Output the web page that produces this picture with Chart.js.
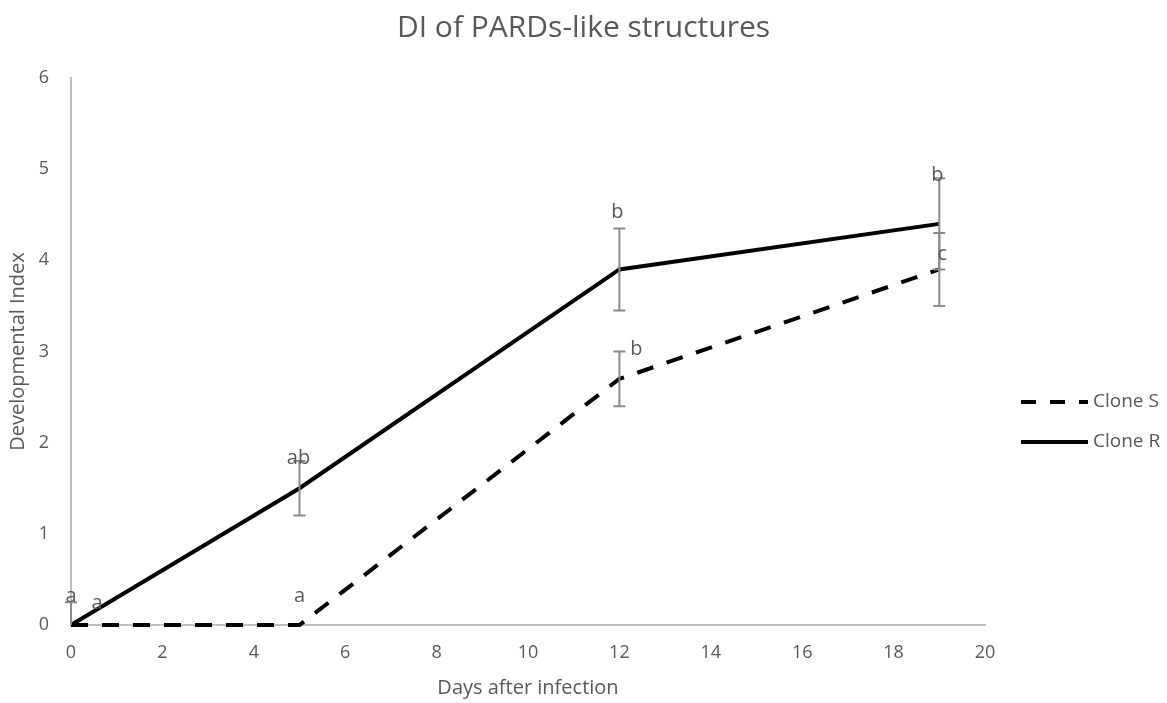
<!DOCTYPE html>
<html lang="en">

<head>
    <meta charset="UTF-8">
    <script src="https://cdn.jsdelivr.net/npm/chart.js"></script>
    <title>DI of PARDs-like structures</title>
    <style>
        body { margin: 0; background: #fff; }
        .box { width: 1167px; height: 703px; }
    </style>
</head>

<body>
    <div class="box">
        <canvas id="myChart"></canvas>
    </div>
</body>

</html>
<script>
    // dados
    const dias = [0, 5, 12, 19];
    const cloneS = [0, 0, 2.7, 3.9];
    const cloneR = [0, 1.5, 3.9, 4.4];
    const erroS = [0, 0, 0.3, 0.4];
    const erroR = [0.25, 0.3, 0.45, 0.5];
    const letrasS = ['a', 'a', 'b', 'c'];
    const letrasR = ['a', 'ab', 'b', 'b'];
    const xTicks = [0, 2, 4, 6, 8, 10, 12, 14, 16, 18, 20];
    const yTicks = [0, 1, 2, 3, 4, 5, 6];

    // deslocamento das letras (px) em relacao ao ponto
    const posS = [[26, -22], [0, -29], [17, -30], [3, -15]];
    const posR = [[0, -29], [-1, -30], [-2, -57], [-2, -49]];

    const fonte = "'Open Sans', 'Noto Sans', sans-serif";
    const cinza = '#595959';

    const pontos = (ys) => dias.map((d, i) => ({ x: d, y: ys[i] }));

    // barras de erro, letras, titulo e legenda
    const extras = {
        id: 'extras',
        afterDatasetsDraw(chart) {
            const c = chart.ctx;
            const x = chart.scales.x;
            const y = chart.scales.y;
            c.save();
            c.strokeStyle = '#8c8c8c';
            c.lineWidth = 2;
            [[cloneS, erroS], [cloneR, erroR]].forEach(([vals, errs]) => {
                vals.forEach((v, i) => {
                    if (!errs[i]) return;
                    const px = x.getPixelForValue(dias[i]);
                    const top = y.getPixelForValue(v + errs[i]);
                    const bot = y.getPixelForValue(Math.max(0, v - errs[i]));
                    c.beginPath();
                    c.moveTo(px, top); c.lineTo(px, bot);
                    c.moveTo(px - 6, top); c.lineTo(px + 6, top);
                    if (v - errs[i] > 0) { c.moveTo(px - 6, bot); c.lineTo(px + 6, bot); }
                    c.stroke();
                });
            });
            c.fillStyle = cinza;
            c.font = '20px ' + fonte;
            c.textAlign = 'center';
            c.textBaseline = 'middle';
            [[cloneS, letrasS, posS], [cloneR, letrasR, posR]].forEach(([vals, letras, pos]) => {
                vals.forEach((v, i) => {
                    const px = x.getPixelForValue(dias[i]);
                    const py = y.getPixelForValue(v);
                    c.fillText(letras[i], px + pos[i][0], py + pos[i][1]);
                });
            });
            c.restore();
        },
        afterDraw(chart) {
            const c = chart.ctx;
            c.save();
            c.fillStyle = cinza;
            c.textBaseline = 'middle';
            c.textAlign = 'center';
            c.font = '30px ' + fonte;
            c.fillText('DI of PARDs-like structures', chart.width / 2, 28);
            // legenda a direita
            c.strokeStyle = '#000';
            c.lineWidth = 4;
            c.setLineDash([15, 14]);
            c.beginPath(); c.moveTo(1021, 402); c.lineTo(1088, 402); c.stroke();
            c.setLineDash([]);
            c.beginPath(); c.moveTo(1021, 442); c.lineTo(1088, 442); c.stroke();
            c.textAlign = 'left';
            c.font = '19px ' + fonte;
            c.fillText('Clone S', 1093, 402);
            c.fillText('Clone R', 1093, 442);
            c.restore();
        }
    };

    const ctx = document.getElementById('myChart');

    const myChart = new Chart(ctx, {
        type: 'line',
        data: {
            datasets: [{
                label: 'Clone S',
                data: pontos(cloneS),
                borderColor: '#000',
                borderWidth: 4,
                borderDash: [17, 14],
                pointRadius: 0,
                tension: 0,
                clip: 8
            }, {
                label: 'Clone R',
                data: pontos(cloneR),
                borderColor: '#000',
                borderWidth: 4,
                pointRadius: 0,
                tension: 0,
                clip: 8
            }]
        },
        options: {
            responsive: true,
            maintainAspectRatio: false,
            animation: false,
            layout: { padding: { left: 0, right: 182, top: 78, bottom: 0 } },
            plugins: {
                legend: { display: false },
                tooltip: { enabled: false },
                title: { display: false }
            },
            scales: {
                x: {
                    type: 'linear',
                    min: 0,
                    max: 20,
                    afterBuildTicks: (s) => { s.ticks = xTicks.map(v => ({ value: v })); },
                    afterFit: (s) => { s.height = 78; },
                    grid: { display: false },
                    border: { display: true, color: '#bfbfbf', width: 2 },
                    ticks: { color: cinza, padding: 9, font: { family: fonte, size: 18 } },
                    title: {
                        display: true,
                        text: 'Days after infection',
                        color: cinza,
                        font: { family: fonte, size: 20 },
                        padding: { top: 0, bottom: 3 }
                    }
                },
                y: {
                    min: 0,
                    max: 6,
                    afterBuildTicks: (s) => { s.ticks = yTicks.map(v => ({ value: v })); },
                    afterFit: (s) => { s.width = 71; },
                    grid: { display: false },
                    border: { display: true, color: '#bfbfbf', width: 2 },
                    ticks: { color: cinza, padding: 14, font: { family: fonte, size: 18 } },
                    title: {
                        display: true,
                        text: 'Developmental Index',
                        color: cinza,
                        font: { family: fonte, size: 20 },
                        padding: { top: 6, bottom: 0 }
                    }
                }
            }
        },
        plugins: [extras]
    });
</script>
